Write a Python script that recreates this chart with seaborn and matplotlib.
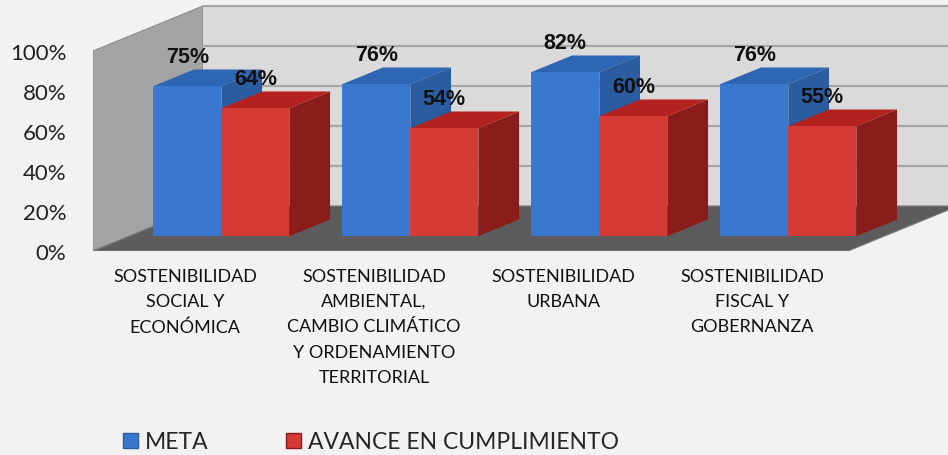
import pandas as pd
import seaborn as sns
import matplotlib.pyplot as plt
from matplotlib.patches import Polygon, Patch, Rectangle

# Data
categorias = [
    "SOSTENIBILIDAD\nSOCIAL Y\nECONÓMICA",
    "SOSTENIBILIDAD\nAMBIENTAL,\nCAMBIO CLIMÁTICO\nY ORDENAMIENTO\nTERRITORIAL",
    "SOSTENIBILIDAD\nURBANA",
    "SOSTENIBILIDAD\nFISCAL Y\nGOBERNANZA",
]
series = ["META", "AVANCE EN CUMPLIMIENTO"]
meta = [0.75, 0.76, 0.82, 0.76]
avance = [0.64, 0.54, 0.60, 0.55]
yticks = [0, 0.2, 0.4, 0.6, 0.8, 1.0]

df = pd.DataFrame({
    "categoria": categorias * 2,
    "serie": [series[0]] * len(meta) + [series[1]] * len(avance),
    "valor": meta + avance,
})

# colours (front, side, top)
azul = ("#3a78d0", "#2a5c9f", "#2e66b4")
rojo = ("#d63a34", "#8a1d1b", "#b3221f")

sns.set_theme(style="white")
plt.rcParams['font.family'] = ['Lato', 'DejaVu Sans']

fig = plt.figure(figsize=(9.48, 4.56), dpi=100, facecolor="#f2f2f2")
ax = fig.add_axes([93 / 948, (456 - 252) / 456, (948 - 93) / 948, 247 / 456])
ax.set_facecolor("none")

sns.barplot(data=df, x="categoria", y="valor", hue="serie",
            palette=[azul[0], rojo[0]], width=0.72, saturation=1,
            legend=False, ax=ax, edgecolor="none", linewidth=0)

bars = [p for p in ax.patches if isinstance(p, Rectangle) and p.get_height() > 0]
bars = sorted(bars, key=lambda p: p.get_x())

# oblique depth vector (data units) for full depth of the chart box
DX, DY = 0.582, 0.225
f0, f1 = 0.33, 0.70
x0, xr = -0.487, 3.508

ax.set_xlim(x0, 4.037)
ax.set_ylim(0, 1.235)

# walls and floor
ax.add_patch(Polygon([(x0, 0), (x0, 1), (x0 + DX, 1 + DY), (x0 + DX, DY)],
                     closed=True, fc="#a4a4a4", ec="#8c8c8c", lw=0.8, zorder=0))
ax.add_patch(Polygon([(x0 + DX, DY), (x0 + DX, 1 + DY), (xr + DX, 1 + DY), (xr + DX, DY)],
                     closed=True, fc="#dadada", ec="none", zorder=0))
for t in yticks[1:]:
    ax.plot([x0 + DX, xr + DX], [t + DY, t + DY], color="#a8a8a8", lw=1.6, zorder=0.5)
ax.add_patch(Polygon([(x0, 0), (x0 + DX, DY), (xr + DX, DY), (xr, 0)],
                     closed=True, fc="#5c5c5c", ec="#7a7a7a", lw=0.8, zorder=1))

# 3D faces built from the seaborn bars
for i, b in enumerate(bars):
    x, w, h = b.get_x(), b.get_width(), b.get_height()
    fc = b.get_facecolor()
    cols = azul if fc[2] > fc[0] else rojo
    z = 3 + 3 * i
    side = [(x + w + f0 * DX, f0 * DY), (x + w + f0 * DX, h + f0 * DY),
            (x + w + f1 * DX, h + f1 * DY), (x + w + f1 * DX, f1 * DY)]
    top = [(x + f0 * DX, h + f0 * DY), (x + w + f0 * DX, h + f0 * DY),
           (x + w + f1 * DX, h + f1 * DY), (x + f1 * DX, h + f1 * DY)]
    ax.add_patch(Polygon(side, closed=True, fc=cols[1], ec="none", zorder=z))
    ax.add_patch(Polygon(top, closed=True, fc=cols[2], ec="none", zorder=z + 1))
    b.set_x(x + f0 * DX)
    b.set_y(f0 * DY)
    b.set_zorder(z + 2)
    ax.annotate(f"{h:.0%}", xy=(x + w / 2 + f0 * DX, h + f0 * DY), xytext=(0, 21),
                textcoords="offset points", ha="center", va="center",
                fontsize=15.5, fontweight="bold", family=["Liberation Sans", "DejaVu Sans"],
                color="#111111", zorder=50)

ax.set_yticks(yticks)
ax.set_yticklabels([f"{int(round(t * 100))}%" for t in yticks], fontsize=16, color="#222222")
ax.set_xticks(range(len(categorias)))
ax.set_xticklabels(categorias, fontsize=13, linespacing=1.72, color="#111111")
ax.tick_params(axis="y", length=0, pad=19)
ax.tick_params(axis="x", length=0, pad=12)
ax.set_xlabel("")
ax.set_ylabel("")
for s in ax.spines.values():
    s.set_visible(False)

fig.legend(handles=[Patch(fc=azul[0], ec=azul[1]), Patch(fc=rojo[0], ec=rojo[1])],
           labels=series, loc="center left", bbox_to_anchor=(123 / 948, 13 / 456),
           ncol=2, frameon=False, fontsize=16.5, handlelength=0.65, handleheight=0.65,
           handletextpad=0.3, columnspacing=3.4, borderpad=0, borderaxespad=0)

plt.savefig("out.png", dpi=100, facecolor=fig.get_facecolor())
